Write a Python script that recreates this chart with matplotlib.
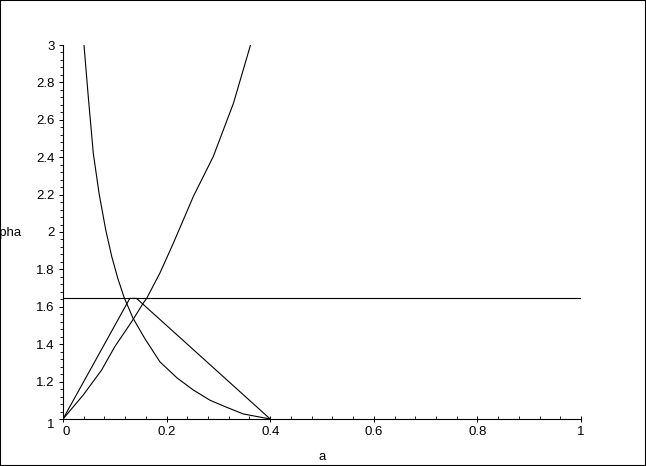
import matplotlib
matplotlib.use("Agg")
import matplotlib.pyplot as plt
import matplotlib.transforms as mtransforms
from matplotlib.patches import Rectangle
from matplotlib.ticker import MultipleLocator

# decreasing curve
a_dec = [0.0405, 0.0489, 0.0585, 0.070, 0.0826, 0.094, 0.106, 0.118, 0.135,
         0.158, 0.187, 0.22, 0.2516, 0.284, 0.313, 0.348, 0.4]
y_dec = [3.0, 2.72, 2.42, 2.20, 2.01, 1.87, 1.75, 1.65, 1.54,
         1.43, 1.306, 1.22, 1.155, 1.10, 1.066, 1.027, 1.0]

# increasing curve
a_inc = [0.0, 0.039, 0.0746, 0.100, 0.1325, 0.155, 0.1615, 0.187, 0.213,
         0.2516, 0.290, 0.329, 0.362]
y_inc = [1.0, 1.128, 1.262, 1.387, 1.52, 1.62, 1.645, 1.78, 1.94,
         2.19, 2.403, 2.688, 3.0]

# triangle
a_tri = [0.0, 0.129, 0.142, 0.4]
y_tri = [1.0, 1.645, 1.645, 1.0]

# horizontal level
a_hor = [0.0, 1.0]
y_hor = [1.645, 1.645]

plt.rcParams['font.family'] = ['Liberation Sans', 'DejaVu Sans']

fig = plt.figure(figsize=(6.46, 4.66), dpi=100)
ax = fig.add_axes([63 / 646, 47 / 466, 518 / 646, 374 / 466])

for xs, ys in [(a_dec, y_dec), (a_inc, y_inc), (a_tri, y_tri), (a_hor, y_hor)]:
    ax.plot(xs, ys, color='black', linewidth=0.8)

ax.set_xlim(0, 1)
ax.set_ylim(1, 3)
ax.spines['top'].set_visible(False)
ax.spines['right'].set_visible(False)
ax.spines['left'].set_linewidth(0.8)
ax.spines['bottom'].set_linewidth(0.8)

ax.xaxis.set_major_locator(MultipleLocator(0.2))
ax.xaxis.set_minor_locator(MultipleLocator(0.04))
ax.yaxis.set_major_locator(MultipleLocator(0.2))
ax.yaxis.set_minor_locator(MultipleLocator(0.04))
ax.set_xticks([0, 0.2, 0.4, 0.6, 0.8, 1.0])
ax.set_xticklabels(['0', '0.2', '0.4', '0.6', '0.8', '1'])
ax.set_yticks([1, 1.2, 1.4, 1.6, 1.8, 2, 2.2, 2.4, 2.6, 2.8, 3])
ax.set_yticklabels(['1', '1.2', '1.4', '1.6', '1.8', '2', '2.2', '2.4', '2.6', '2.8', '3'])

ax.tick_params(axis='x', which='major', direction='inout', length=4, width=0.7, pad=3, labelsize=9.5)
ax.tick_params(axis='x', which='minor', direction='in', length=2, width=0.6)
ax.tick_params(axis='y', which='major', direction='out', length=3, width=0.7, pad=3, labelsize=9.5)
ax.tick_params(axis='y', which='minor', direction='out', length=2, width=0.6)

# shift origin labels away from the corner
xl = ax.get_xticklabels()[0]
xl.set_transform(xl.get_transform() + mtransforms.ScaledTranslation(3 / 100, 0, fig.dpi_scale_trans))
yl = ax.get_yticklabels()[0]
yl.set_transform(yl.get_transform() + mtransforms.ScaledTranslation(0, -5 / 100, fig.dpi_scale_trans))

fig.text(322 / 646, 1 - 457 / 466, 'a', ha='center', va='center', fontsize=9.5)
fig.text(22 / 646, 1 - 233 / 466, 'alpha', ha='right', va='center', fontsize=9.5)

fig.patches.append(Rectangle((0, 0), 1, 1, transform=fig.transFigure, fill=False,
                             edgecolor='black', linewidth=1.5))

fig.savefig('out.png', dpi=100, facecolor='white')
